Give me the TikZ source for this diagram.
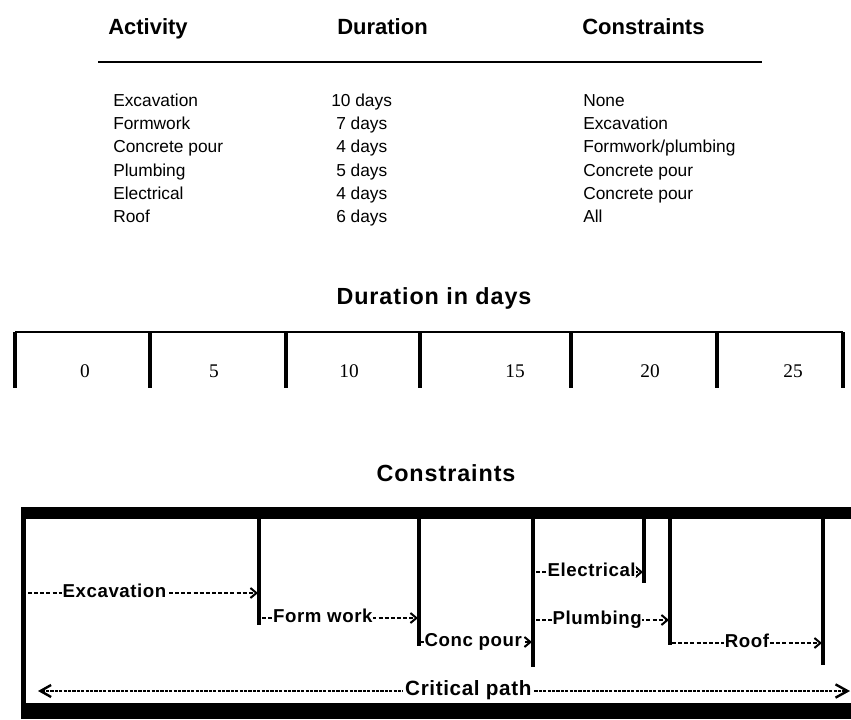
\documentclass[tikz,border=0pt]{standalone}
\usepackage{fontspec}
\setmainfont{Liberation Sans}
\newfontfamily\numfont{Liberation Serif}
\newfontfamily\spacedfont[LetterSpace=3]{Liberation Sans}
\newfontfamily\titlefont[LetterSpace=4]{Liberation Sans}
\usetikzlibrary{arrows.meta}

\tikzset{
  head/.style={anchor=base west, inner sep=0pt, font=\fontsize{16.5}{18}\selectfont\bfseries},
  cell/.style={anchor=base west, inner sep=0pt, font=\fontsize{13}{15}\selectfont},
  title/.style={anchor=base, inner sep=0pt, font=\titlefont\fontsize{17.5}{20}\selectfont\bfseries},
  num/.style={anchor=base, inner sep=0pt, font=\numfont\fontsize{14.5}{16}\selectfont},
  tick/.style={line width=3pt},
  mile/.style={line width=3pt},
  act/.style={line width=1.5pt, dash pattern=on 3pt off 1.6pt,
    -{Straight Barb[length=4.5pt,width=7.5pt,line width=1.5pt]}},
  crit/.style={line width=1.1pt, dash pattern=on 2.4pt off 0.9pt,
    {Straight Barb[length=8pt,width=9pt,line width=1.8pt]}-{Straight Barb[length=9pt,width=10pt,line width=1.8pt]}},
  lbl/.style={fill=white, inner sep=0.6pt, text height=0.62em, text depth=0pt,
    font=\spacedfont\fontsize{14}{16}\selectfont\bfseries},
  lblbig/.style={lbl, inner sep=2pt, font=\spacedfont\fontsize{15.5}{17}\selectfont\bfseries},
}

\begin{document}
\begin{tikzpicture}[x=0.75pt, y=-0.75pt]
\useasboundingbox (0,0) rectangle (851,719);

% table of activities
\node[head] (hAct) at (108,34) {Activity};
\node[head] (hDur) at (337,34) {Duration};
\node[head] (hCon) at (582,34) {Constraints};
\draw[line width=0.9pt] (98,62) -- (762,62);

\node[cell] (a1) at (113,106) {Excavation};
\node[cell] (a2) at (113,129) {Formwork};
\node[cell] (a3) at (113,152) {Concrete pour};
\node[cell] (a4) at (113,176) {Plumbing};
\node[cell] (a5) at (113,199) {Electrical};
\node[cell] (a6) at (113,222) {Roof};

\node[cell] (d1) at (331,106) {10 days};
\node[cell] (d2) at (336,129) {7 days};
\node[cell] (d3) at (336,152) {4 days};
\node[cell] (d4) at (336,176) {5 days};
\node[cell] (d5) at (336,199) {4 days};
\node[cell] (d6) at (336,222) {6 days};

\node[cell] (c1) at (583,106) {None};
\node[cell] (c2) at (583,129) {Excavation};
\node[cell] (c3) at (583,152) {Formwork/plumbing};
\node[cell] (c4) at (583,176) {Concrete pour};
\node[cell] (c5) at (583,199) {Concrete pour};
\node[cell] (c6) at (583,222) {All};

% duration scale
\node[title] (tDur) at (434,304) {Duration in days};
\draw[line width=1.1pt] (15,332) -- (843,332);
\foreach \x in {15,150,286,420,571,717,843}
  \draw[tick] (\x,332) -- (\x,388);
\node[num] (n0) at (85,377) {0};
\node[num] (n5) at (214,377) {5};
\node[num] (n10) at (349,377) {10};
\node[num] (n15) at (515,377) {15};
\node[num] (n20) at (650,377) {20};
\node[num] (n25) at (793,377) {25};

% constraints chart
\node[title] (tCon) at (446,481) {Constraints};
\fill (24,507) rectangle (851,519);
\fill (24,703) rectangle (851,719);
\fill (21,507) rectangle (26,719);

\coordinate (m1t) at (259,519); \coordinate (m1b) at (259,625);
\coordinate (m2t) at (419,519); \coordinate (m2b) at (419,646);
\coordinate (m3t) at (533,519); \coordinate (m3b) at (533,667);
\coordinate (m4t) at (644,519); \coordinate (m4b) at (644,583);
\coordinate (m5t) at (670,519); \coordinate (m5b) at (670,645);
\coordinate (m6t) at (823,519); \coordinate (m6b) at (823,665);
\draw[mile] (m1t) -- (m1b);
\draw[mile] (m2t) -- (m2b);
\draw[mile] (m3t) -- (m3b);
\draw[mile] (m4t) -- (m4b);
\draw[mile, line width=2.4pt] (m5t) -- (m5b);
\draw[mile, line width=2.4pt] (m6t) -- (m6b);

\coordinate (exA) at (28,593);  \coordinate (exB) at (258,593);
\coordinate (fwA) at (262,618); \coordinate (fwB) at (418,618);
\coordinate (cpA) at (421,642); \coordinate (cpB) at (532,642);
\coordinate (elA) at (536,572); \coordinate (elB) at (643,572);
\coordinate (plA) at (536,620); \coordinate (plB) at (669,620);
\coordinate (rfA) at (672,643); \coordinate (rfB) at (822,643);
\coordinate (crA) at (38,691);  \coordinate (crB) at (850,691);

\draw[act] (exA) -- node[lbl, pos=0.376] (lEx) {Excavation} (exB);
\draw[act] (fwA) -- node[lbl, pos=0.39] (lFw) {Form work} (fwB);
\draw[act] (cpA) -- node[lbl, pos=0.47] (lCp) {Conc pour} (cpB);
\draw[act] (elA) -- node[lbl, pos=0.52] (lEl) {Electrical} (elB);
\draw[act] (plA) -- node[lbl, pos=0.46] (lPl) {Plumbing} (plB);
\draw[act] (rfA) -- node[lbl, pos=0.5] (lRf) {Roof} (rfB);
\draw[crit] (crA) -- node[lblbig, pos=0.53] (lCr) {Critical path} (crB);
\end{tikzpicture}
\end{document}
